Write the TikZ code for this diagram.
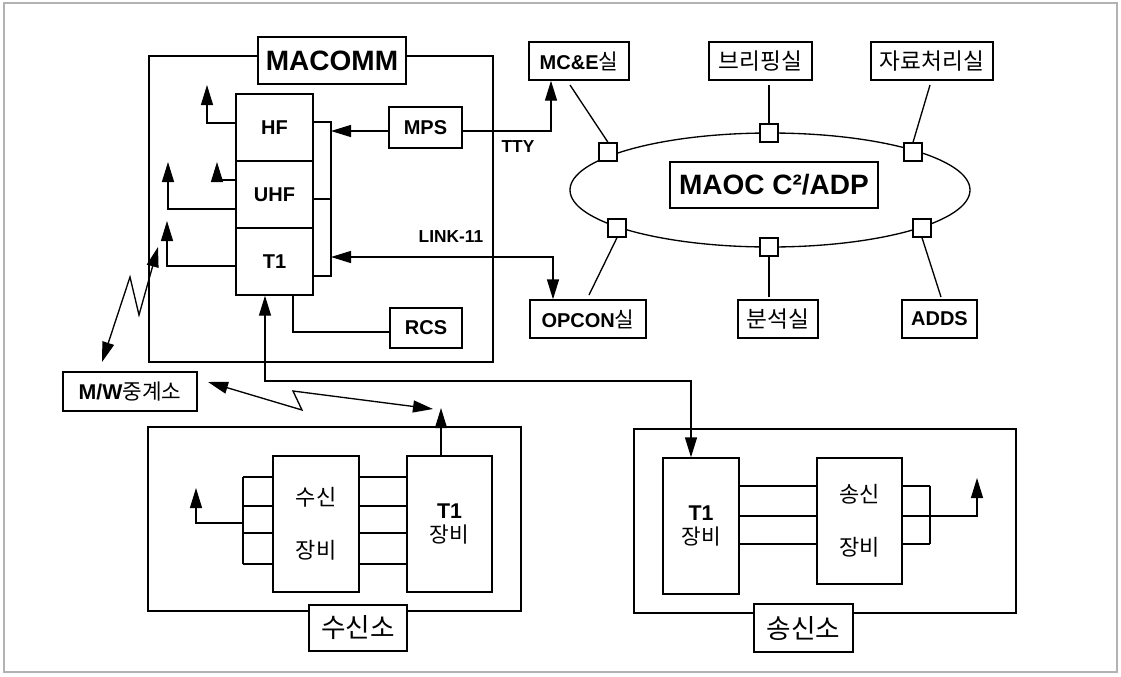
\documentclass[tikz,border=0pt]{standalone}
\usepackage{fontspec}
\setmainfont{Liberation Sans}
\newfontfamily\kr{Noto Sans CJK KR}
\usetikzlibrary{arrows.meta,calc,shapes.geometric}
\begin{document}
\begin{tikzpicture}[x=0.75pt,y=-0.75pt,
  ln/.style={line width=1pt},
  rect/.style n args={4}{at={($(#1,#2)!0.5!(#3,#4)$)}, minimum width={(#3-#1)*0.75pt}, minimum height={(#4-#2)*0.75pt}},
  frame/.style={draw, line width=1pt, inner sep=0pt},
  box/.style={draw, line width=1pt, inner sep=0pt, fill=white, align=center},
  sq/.style={draw, line width=1pt, fill=white, minimum size=13.5pt, inner sep=0pt},
  tip/.style={-{Triangle[length=15pt,width=9pt]}},
  tips/.style={{Triangle[length=15pt,width=9pt]}-{Triangle[length=15pt,width=9pt]}},
  fbig/.style={font=\bfseries\fontsize{21}{24}\selectfont},
  fmid/.style={font=\bfseries\fontsize{15}{18}\selectfont},
  fbox/.style={font=\bfseries\fontsize{15}{18}\selectfont},
  flab/.style={font=\bfseries\fontsize{13}{15}\selectfont},
  fkr/.style={font=\kr\fontsize{17}{20}\selectfont},
  fkrbig/.style={font=\kr\fontsize{20}{24}\selectfont},
  fequip/.style={font=\kr\fontsize{16.5}{40}\selectfont},
  ft1/.style={font=\fontsize{16}{19}\selectfont}
]
\useasboundingbox (0,0) rectangle (1121,676);
\draw[gray!60, line width=0.8pt] (4,3) rectangle (1117,672);

% ---------------- MACOMM ----------------
\node[frame, rect={149}{56}{493}{362}] (macf) {};
\node[box, fbig, rect={258}{37}{406}{84}] (macomm) {MACOMM};
\node[box, fmid, rect={236}{94}{313}{161}] (hf) {HF};
\node[box, fmid, rect={236}{161}{313}{228}] (uhf) {UHF};
\node[box, fmid, rect={236}{228}{313}{295}] (t1) {T1};
\node[box, fbox, rect={389}{107}{462}{148}] (mps) {MPS};
\node[box, fbox, rect={390}{308}{462}{348}] (rcs) {RCS};

% bus on right of stack
\coordinate (b1) at (331,122);
\coordinate (b2) at (331,199);
\coordinate (b3) at (331,276);
\coordinate (bm) at (331,131);
\coordinate (bl) at (331,257);
\draw[ln] (hf.east |- b1) -- (b1) -- (b3) -- (t1.east |- b3);
\draw[ln] (uhf.east |- b2) -- (b2);
\draw[ln,tip] (mps.west |- bm) -- (bm);

% left antenna arrows
\coordinate (l1) at (207,123); \coordinate (l1e) at (207,85);
\coordinate (l2) at (217,180); \coordinate (l2e) at (217,162);
\coordinate (l3) at (168,209); \coordinate (l3e) at (168,162);
\coordinate (l4) at (167,266); \coordinate (l4e) at (167,221);
\draw[ln,tip] (hf.west |- l1) -- (l1) -- (l1e);
\draw[ln,tip] (uhf.west |- l2) -- (l2) -- (l2e);
\draw[ln,tip] (uhf.west |- l3) -- (l3) -- (l3e);
\draw[ln,tip] (t1.west |- l4) -- (l4) -- (l4e);

% RCS
\coordinate (rc) at (293,332);
\draw[ln] (rc |- t1.south) -- (rc) -- (rcs.west |- rc);

% ---------------- MAOC ring ----------------
\node[draw, ln, ellipse, minimum width=300pt, minimum height=85.5pt, inner sep=0pt] (ring) at (770,190) {};
\node[box, fbig, rect={670}{162}{878}{208}] (maoc) {MAOC C²/ADP};
\node[sq] (s1) at (608,152) {};
\node[sq] (s2) at (769,133) {};
\node[sq] (s3) at (913,152) {};
\node[sq] (s4) at (617,228) {};
\node[sq] (s5) at (769,247) {};
\node[sq] (s6) at (922,228) {};

\node[box, fbox, rect={529}{42}{629}{80}] (mce) {MC\&E{\kr\mdseries\fontsize{16}{19}\selectfont 실}};
\node[box, fkr, rect={709}{42}{812}{80}] (brief) {브리핑실};
\node[box, fkr, rect={871}{42}{993}{80}] (data) {자료처리실};
\node[box, fbox, rect={530}{300}{646}{338}] (opcon) {OPCON{\kr\mdseries\fontsize{16}{19}\selectfont 실}};
\node[box, fkr, rect={738}{300}{818}{338}] (anal) {분석실};
\node[box, fbox, rect={902}{300}{977}{338}] (adds) {ADDS};

\coordinate (r1) at (570,85);
\coordinate (r2) at (769,85);
\coordinate (r3) at (930,85);
\coordinate (r4) at (589,295);
\coordinate (r5) at (769,297);
\coordinate (r6) at (941,297);
\draw[ln] (r1) -- (s1.north);
\draw[ln] (r2) -- (s2.north);
\draw[ln] (r3) -- (s3.north);
\draw[ln] (r4) -- (s4.south);
\draw[ln] (r5) -- (s5.south);
\draw[ln] (r6) -- (s6.south);

% TTY and LINK-11
\coordinate (tt) at (551,131);
\draw[ln,tip] (mps.east |- tt) -- (tt) -- (tt |- mce.south);
\node[flab] (ttyl) at (518,147) {TTY};
\coordinate (lk) at (553,257);
\draw[ln,tips] (bl) -- (lk) -- (lk |- opcon.north);
\node[flab] (linkl) at (451,237) {LINK-11};

% ---------------- M/W relay ----------------
\node[box, font=\fontsize{16}{19}\selectfont, rect={63}{372}{197}{411}] (mw) {{\bfseries M/W}{\kr 중계소}};
\coordinate (z1a) at (102,362);
\coordinate (z1b) at (130,277);
\coordinate (z1c) at (139,315);
\coordinate (z1d) at (158,247);
\draw[ln,tips] (z1a) -- (z1b) -- (z1c) -- (z1d);
\coordinate (z2a) at (208,382);
\coordinate (z2b) at (302,410);
\coordinate (z2c) at (293,391);
\coordinate (z2d) at (433,409);
\draw[ln,tips] (z2a) -- (z2b) -- (z2c) -- (z2d);

% ---------------- receive station ----------------
\node[frame, rect={148}{427}{521}{611}] (rxf) {};
\node[box, fkrbig, rect={309}{605}{407}{651}] (rxl) {수신소};
\node[box, fequip, rect={273}{456}{359}{592}] (rxe) {수신\\장비};
\node[box, ft1, rect={407}{456}{492}{592}] (rxt) {{\bfseries T1}\\[-1pt]{\kr 장비}};
\foreach \yy in {477,506,533,564}{
  \draw[ln] (rxe.east |- 0,\yy) -- (rxt.west |- 0,\yy);
  \draw[ln] (243,\yy) -- (rxe.west |- 0,\yy);
}
\coordinate (rxa) at (243,477);
\coordinate (rxb) at (243,564);
\draw[ln] (rxa) -- (rxb);
\coordinate (rxc) at (243,523);
\coordinate (rxd) at (196,523);
\coordinate (rxe2) at (196,488);
\draw[ln,tip] (rxc) -- (rxd) -- (rxe2);
\coordinate (rxu) at (441,408);
\draw[ln,tip] (rxu |- rxt.north) -- (rxu);

% ---------------- transmit station ----------------
\node[frame, rect={634}{429}{1016}{613}] (txf) {};
\node[box, fkrbig, rect={754}{604}{853}{652}] (txl) {송신소};
\node[box, ft1, rect={663}{458}{739}{594}] (txt) {{\bfseries T1}\\[-1pt]{\kr 장비}};
\node[box, fequip, rect={817}{458}{902}{584}] (txe) {송신\\장비};
\foreach \yy in {486,516,544}{
  \draw[ln] (txt.east |- 0,\yy) -- (txe.west |- 0,\yy);
  \draw[ln] (txe.east |- 0,\yy) -- (930,\yy);
}
\coordinate (txa) at (930,486);
\coordinate (txb) at (930,544);
\draw[ln] (txa) -- (txb);
\coordinate (txc) at (977,516);
\coordinate (txd) at (977,478);
\draw[ln,tip] (txe.east |- txc) -- (txc) -- (txd);

% link from MACOMM T1 to transmit T1
\coordinate (la) at (265,381);
\coordinate (lb) at (691,381);
\draw[ln,tips] (la |- t1.south) -- (la) -- (lb) -- (lb |- txt.north);
\end{tikzpicture}
\end{document}
